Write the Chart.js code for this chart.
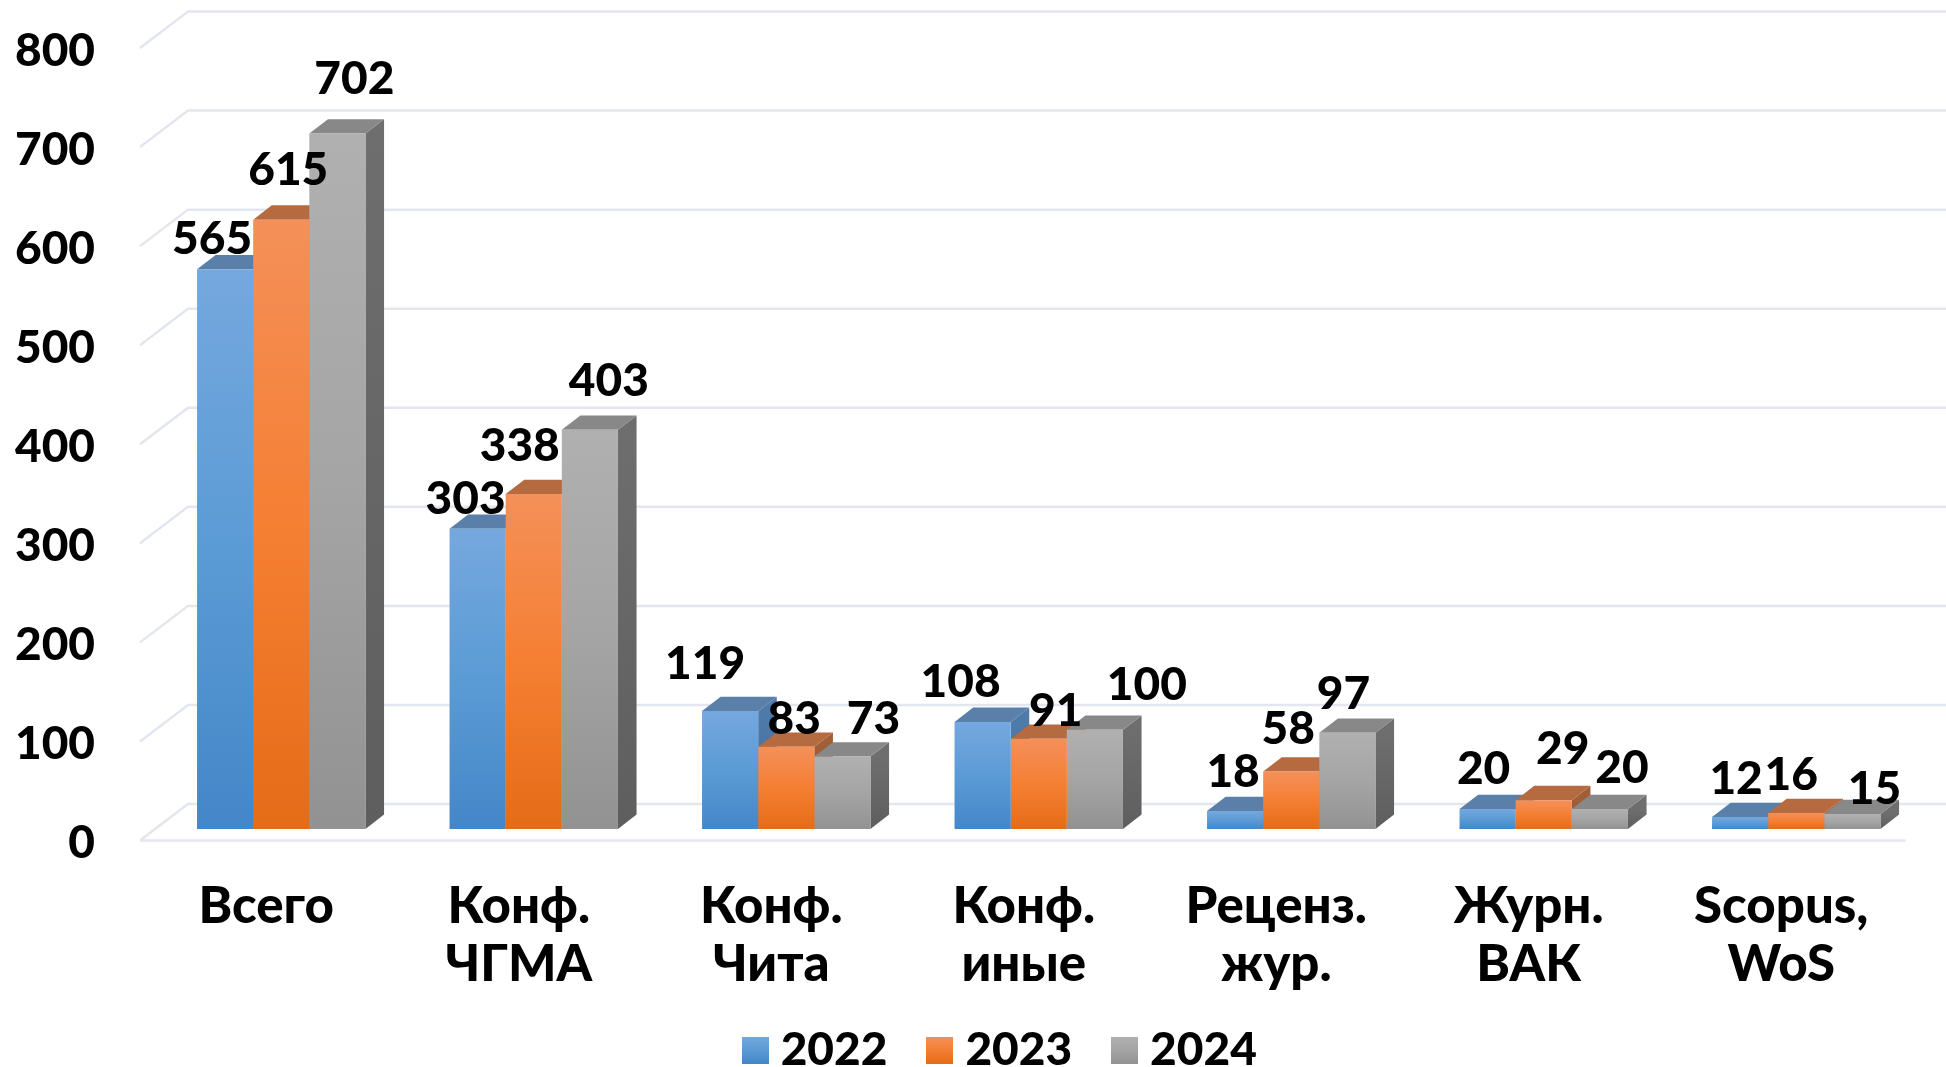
<!DOCTYPE html>
<html>
<head>
<meta charset="utf-8">
<title>Публикации 2022-2024</title>
<script src="https://cdn.jsdelivr.net/npm/chart.js@4"></script>
<style>
    html, body { margin: 0; padding: 0; background: #fff; overflow: hidden; }
    canvas { display: block; }
</style>
</head>
<body>
<canvas id="barChart" width="1946" height="1067"></canvas>
<script>
const categories = [['Всего'], ['Конф.', 'ЧГМА'], ['Конф.', 'Чита'], ['Конф.', 'иные'], ['Реценз.', 'жур.'], ['Журн.', 'ВАК'], ['Scopus,', 'WoS']];
const seriesNames = ['2022', '2023', '2024'];
const values2022 = [565, 303, 119, 108, 18, 20, 12];
const values2023 = [615, 338, 83, 91, 58, 29, 16];
const values2024 = [702, 403, 73, 100, 97, 20, 15];

// the labels were placed by hand in the original, so each has its own shift from the bar top
const labelShift2022 = [[-13, -30], [-12, -30], [-25, -47], [-22, -40], [-2, -39], [-4, -40], [-4, -38]];
const labelShift2023 = [[7, -49], [-14, -48], [8, -28], [17, -28], [-3, -42], [19, -51], [-5, -38]];
const labelShift2024 = [[17, -54], [19, -49], [31, -37], [52, -45], [-4, -39], [22, -41], [22, -25]];
const labelShifts = [labelShift2022, labelShift2023, labelShift2024];

const font = { family: 'Lato, "Open Sans", sans-serif', size: 46, weight: '900' };
const gridColor = '#E3E6EE';

// colours: gradient top, gradient middle, gradient bottom, top face, side face top, side face bottom
const palette = [
    ['#75A8DE', '#5B9BD5', '#4486C8', '#5A80AA', '#4F7BAA', '#3E6A98'],
    ['#F49059', '#F57F33', '#E56C17', '#B56A40', '#A05F36', '#8E5128'],
    ['#B0B0B0', '#A5A5A5', '#929292', '#888888', '#6E6E6E', '#5E5E5E']
];

// bars stand inside the floor, walls are at the back of it
const barOffset = { x: 15, y: -11.6 };
const barDepth = { x: 18.6, y: -14.3 };
const wallOffset = { x: 48, y: -36.5 };

function barGradient(context) {
    const c = palette[context.datasetIndex];
    const y = context.chart.scales.y;
    const g = context.chart.ctx.createLinearGradient(0, y.getPixelForValue(context.raw), 0, y.getPixelForValue(0));
    g.addColorStop(0, c[0]);
    g.addColorStop(0.5, c[1]);
    g.addColorStop(1, c[2]);
    return g;
}

function legendSwatch(i) {
    const c = document.createElement('canvas');
    c.width = 27;
    c.height = 27;
    const x = c.getContext('2d');
    const g = x.createLinearGradient(0, 0, 0, 27);
    g.addColorStop(0, palette[i][0]);
    g.addColorStop(0.5, palette[i][1]);
    g.addColorStop(1, palette[i][2]);
    x.fillStyle = g;
    x.fillRect(0, 0, 27, 27);
    return c;
}

// Back wall, floor and diagonal grid lines
const wallGrid = {
    id: 'wallGrid',
    beforeDatasetsDraw(chart) {
        const { ctx, chartArea, scales } = chart;
        ctx.save();
        ctx.strokeStyle = gridColor;
        ctx.lineWidth = 2.5;
        scales.y.ticks.forEach(tick => {
            const y = scales.y.getPixelForValue(tick.value);
            ctx.beginPath();
            ctx.moveTo(chartArea.left, y);
            ctx.lineTo(chartArea.left + wallOffset.x, y + wallOffset.y);
            ctx.lineTo(chart.width, y + wallOffset.y);
            ctx.stroke();
        });
        const y0 = scales.y.getPixelForValue(0);
        ctx.beginPath();
        ctx.moveTo(chartArea.left, y0);
        ctx.lineTo(chartArea.right - 2, y0);
        ctx.stroke();
        ctx.restore();
    }
};

// Side and top faces go first, left to right, then the library draws the front faces over them
const barFaces = {
    id: 'barFaces',
    beforeDatasetsDraw(chart) {
        const ctx = chart.ctx;
        ctx.save();
        ctx.translate(barOffset.x, barOffset.y);
        categories.forEach((_, i) => {
            seriesNames.forEach((_, d) => {
                const bar = chart.getDatasetMeta(d).data[i];
                const c = palette[d];
                const right = bar.x + bar.width / 2;
                const left = bar.x - bar.width / 2;

                const side = ctx.createLinearGradient(0, bar.y, 0, bar.base);
                side.addColorStop(0, c[4]);
                side.addColorStop(1, c[5]);
                ctx.fillStyle = side;
                ctx.beginPath();
                ctx.moveTo(right, bar.y);
                ctx.lineTo(right + barDepth.x, bar.y + barDepth.y);
                ctx.lineTo(right + barDepth.x, bar.base + barDepth.y);
                ctx.lineTo(right, bar.base);
                ctx.closePath();
                ctx.fill();

                ctx.fillStyle = c[3];
                ctx.beginPath();
                ctx.moveTo(left, bar.y);
                ctx.lineTo(left + barDepth.x, bar.y + barDepth.y);
                ctx.lineTo(right + barDepth.x, bar.y + barDepth.y);
                ctx.lineTo(right, bar.y);
                ctx.closePath();
                ctx.fill();
            });
        });
    },
    afterDatasetsDraw(chart) {
        chart.ctx.restore();
    }
};

// Value labels
const valueLabels = {
    id: 'valueLabels',
    afterDraw(chart) {
        const ctx = chart.ctx;
        ctx.save();
        ctx.font = `${font.weight} ${font.size}px ${font.family}`;
        ctx.fillStyle = '#000';
        ctx.textAlign = 'center';
        ctx.textBaseline = 'middle';
        chart.data.datasets.forEach((ds, d) => {
            chart.getDatasetMeta(d).data.forEach((bar, i) => {
                const shift = labelShifts[d][i];
                ctx.fillText(ds.data[i], bar.x + barOffset.x + shift[0], bar.y + barOffset.y + shift[1]);
            });
        });
        ctx.restore();
    }
};

// Legend is moved to where it sits in the original, x axis labels would get clipped at the legend otherwise
const legendPlace = {
    id: 'legendPlace',
    afterLayout(chart) {
        const legend = chart.legend;
        legend.left += 51;
        legend.right += 51;
        legend.top += 16;
        legend.bottom += 16;
        chart.scales.x.bottom = chart.height;
    }
};

new Chart(document.getElementById('barChart'), {
    type: 'bar',
    data: {
        labels: categories,
        datasets: [
            { label: seriesNames[0], data: values2022, backgroundColor: barGradient },
            { label: seriesNames[1], data: values2023, backgroundColor: barGradient },
            { label: seriesNames[2], data: values2024, backgroundColor: barGradient }
        ]
    },
    options: {
        responsive: false,
        animation: false,
        categoryPercentage: 0.667,
        barPercentage: 1,
        layout: { padding: { top: 48, right: 38.5 } },
        plugins: {
            tooltip: { enabled: false },
            legend: {
                position: 'bottom',
                labels: {
                    font: font,
                    color: '#000',
                    padding: 50,
                    usePointStyle: true,
                    pointStyleWidth: 5,
                    generateLabels(chart) {
                        return chart.data.datasets.map((ds, i) => ({
                            text: ds.label,
                            fontColor: '#000',
                            pointStyle: legendSwatch(i),
                            datasetIndex: i
                        }));
                    }
                }
            }
        },
        scales: {
            x: {
                grid: { display: false },
                border: { display: false },
                ticks: { font: { ...font, size: 51, lineHeight: 1.14 }, color: '#000', padding: 29, maxRotation: 0, autoSkip: false },
                afterFit(scale) {
                    scale.height = 1067 - 840.5 - scale.chart.legend.height;
                    scale.paddingLeft = 0;
                    scale.paddingRight = 0;
                }
            },
            y: {
                min: 0,
                max: 800,
                grid: { display: false },
                border: { display: false },
                ticks: { stepSize: 100, font: font, color: '#000', padding: 37, labelOffset: 3 },
                afterFit(scale) {
                    scale.width = 140;
                    scale.paddingTop = 0;
                    scale.paddingBottom = 0;
                }
            }
        }
    },
    plugins: [wallGrid, barFaces, valueLabels, legendPlace]
});
</script>
</body>
</html>
